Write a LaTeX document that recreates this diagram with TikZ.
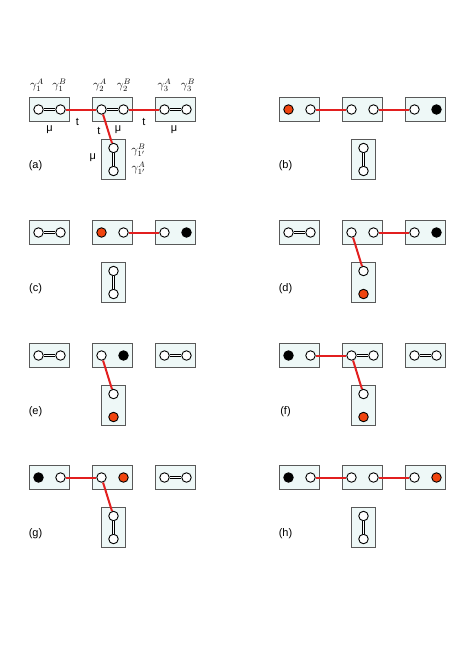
\documentclass[tikz,border=0pt]{standalone}
\usepackage{fontspec}
\setmainfont{Liberation Sans}

\definecolor{cellfill}{HTML}{EEF8F7}
\definecolor{holecol}{HTML}{F0440E}
\definecolor{hopcol}{HTML}{E21F1F}

\tikzset{
  cell/.style={draw=black!65, fill=cellfill, line width=1pt, minimum width=40pt, minimum height=24pt, inner sep=0pt},
  vcell/.style={cell, minimum width=24pt, minimum height=40pt},
  site/.style={circle, draw=black, fill=white, line width=0.9pt, minimum size=9.5pt, inner sep=0pt},
  occ/.style={site, fill=black},
  hole/.style={site, fill=holecol},
  bar/.style={draw=black, line width=1.1pt, double=white, double distance=1.2pt},
  hop/.style={hopcol, line width=2pt},
  tag/.style={font=\fontsize{11}{13}\selectfont},
  gam/.style={font=\fontsize{11.5}{13}\selectfont, inner sep=0pt},
}

% the four cells of one panel
\newcommand{\cellrow}[1]{%
  \node[cell] (#1h1) at (0,0) {};
  \node[cell] (#1h2) at (63,0) {};
  \node[cell] (#1h3) at (126,0) {};
  \node[vcell] (#1v) at (64,50) {};
}

% the eight sites: prefix, then one style per site
\newcommand{\sites}[9]{%
  \node[#2] (#1s1) at (-11,0) {};
  \node[#3] (#1s2) at (11,0) {};
  \node[#4] (#1s3) at (52,0) {};
  \node[#5] (#1s4) at (74,0) {};
  \node[#6] (#1s5) at (115,0) {};
  \node[#7] (#1s6) at (137,0) {};
  \node[#8] (#1s7) at (64,38.5) {};
  \node[#9] (#1s8) at (64,61.5) {};
}

\begin{document}
\begin{tikzpicture}[x=1pt, y=-1pt]
  \useasboundingbox (0,0) rectangle (457,654);

  % (a)
  \begin{scope}[shift={(49.5,109.5)}]
    \cellrow{a}
    \sites{a}{site}{site}{site}{site}{site}{site}{site}{site}
    \draw[bar] (as1) -- (as2);
    \draw[bar] (as3) -- (as4);
    \draw[bar] (as5) -- (as6);
    \draw[bar] (as7) -- (as8);
    \draw[hop] (as2) -- (as3);
    \draw[hop] (as4) -- (as5);
    \draw[hop] (as3) -- (as7);
    \node[gam] at (-12.5,-24) {$\gamma_1^A$};
    \node[gam] at (10,-24) {$\gamma_1^B$};
    \node[gam] at (50.5,-24) {$\gamma_2^A$};
    \node[gam] at (74.5,-24) {$\gamma_2^B$};
    \node[gam] at (115,-24) {$\gamma_3^A$};
    \node[gam] at (138.5,-24) {$\gamma_3^B$};
    \node[gam] at (89,40.5) {$\gamma_{1'}^B$};
    \node[gam] at (89,59) {$\gamma_{1'}^A$};
    \node[tag] at (0,20.5) {μ};
    \node[tag] at (27.8,12.2) {t};
    \node[tag] at (49.5,21.5) {t};
    \node[tag] at (68.5,20.5) {μ};
    \node[tag] at (94.5,12.2) {t};
    \node[tag] at (124.5,20.5) {μ};
    \node[tag] at (43.2,48.5) {μ};
    \node[tag] at (-14,56.5) {(a)};
  \end{scope}

  % (b)
  \begin{scope}[shift={(299.5,109.5)}]
    \cellrow{b}
    \sites{b}{hole}{site}{site}{site}{site}{occ}{site}{site}
    \draw[bar] (bs7) -- (bs8);
    \draw[hop] (bs2) -- (bs3);
    \draw[hop] (bs4) -- (bs5);
    \node[tag] at (-14,56.5) {(b)};
  \end{scope}

  % (c)
  \begin{scope}[shift={(49.5,232.5)}]
    \cellrow{c}
    \sites{c}{site}{site}{hole}{site}{site}{occ}{site}{site}
    \draw[bar] (cs1) -- (cs2);
    \draw[bar] (cs7) -- (cs8);
    \draw[hop] (cs4) -- (cs5);
    \node[tag] at (-14,56.5) {(c)};
  \end{scope}

  % (d)
  \begin{scope}[shift={(299.5,232.5)}]
    \cellrow{d}
    \sites{d}{site}{site}{site}{site}{site}{occ}{site}{hole}
    \draw[bar] (ds1) -- (ds2);
    \draw[hop] (ds4) -- (ds5);
    \draw[hop] (ds3) -- (ds7);
    \node[tag] at (-14,56.5) {(d)};
  \end{scope}

  % (e)
  \begin{scope}[shift={(49.5,355.5)}]
    \cellrow{e}
    \sites{e}{site}{site}{site}{occ}{site}{site}{site}{hole}
    \draw[bar] (es1) -- (es2);
    \draw[bar] (es5) -- (es6);
    \draw[hop] (es3) -- (es7);
    \node[tag] at (-14,56.5) {(e)};
  \end{scope}

  % (f)
  \begin{scope}[shift={(299.5,355.5)}]
    \cellrow{f}
    \sites{f}{occ}{site}{site}{site}{site}{site}{site}{hole}
    \draw[bar] (fs3) -- (fs4);
    \draw[bar] (fs5) -- (fs6);
    \draw[hop] (fs2) -- (fs3);
    \draw[hop] (fs3) -- (fs7);
    \node[tag] at (-14,56.5) {(f)};
  \end{scope}

  % (g)
  \begin{scope}[shift={(49.5,477.5)}]
    \cellrow{g}
    \sites{g}{occ}{site}{site}{hole}{site}{site}{site}{site}
    \draw[bar] (gs5) -- (gs6);
    \draw[bar] (gs7) -- (gs8);
    \draw[hop] (gs2) -- (gs3);
    \draw[hop] (gs3) -- (gs7);
    \node[tag] at (-14,56.5) {(g)};
  \end{scope}

  % (h)
  \begin{scope}[shift={(299.5,477.5)}]
    \cellrow{h}
    \sites{h}{occ}{site}{site}{site}{site}{hole}{site}{site}
    \draw[bar] (hs7) -- (hs8);
    \draw[hop] (hs2) -- (hs3);
    \draw[hop] (hs4) -- (hs5);
    \node[tag] at (-14,56.5) {(h)};
  \end{scope}
\end{tikzpicture}
\end{document}
